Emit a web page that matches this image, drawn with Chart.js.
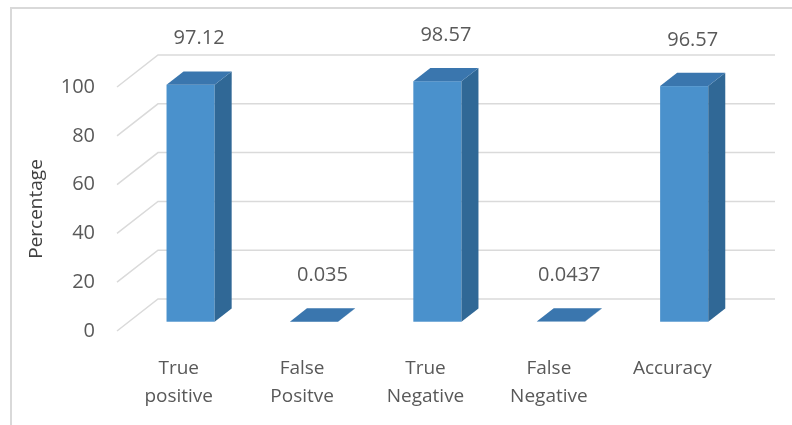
<!DOCTYPE html>
<html>
<head>
<meta charset="utf-8">
<script src="https://cdn.jsdelivr.net/npm/chart.js@4/dist/chart.umd.min.js"></script>
<style>
  html, body { margin: 0; padding: 0; background: #ffffff; }
  #wrap { width: 792px; height: 425px; position: relative; }
</style>
</head>
<body>
<div id="wrap"><canvas id="chart" width="792" height="425"></canvas></div>
<script>
// Classification results (percent)
const categories = [["True", "positive"], ["False", "Positve"], ["True", "Negative"], ["False", "Negative"], ["Accuracy"]];
const values = [97.12, 0.035, 98.57, 0.0437, 96.57];
const yTickValues = [0, 20, 40, 60, 80, 100];

// 3D look: depth of the floor and of each bar box
const FLOOR_DX = 41, FLOOR_DY = -32;
const BAR_FRONT = 0.29;   // bar front sits this far into the floor depth
const BAR_DEPTH = 0.415;  // bar box depth as a share of the floor depth

const COLORS = {
  front: '#4a91cc',
  top: '#3a76ae',
  side: '#306896',
  grid: '#dadada',
  frame: '#d9d9d9',
  text: '#595959',
  title: '#404040'
};
const FONT = "'Open Sans', 'DejaVu Sans', sans-serif";

const box3d = {
  id: 'box3d',
  beforeDatasetsDraw(chart) {
    const ctx = chart.ctx;
    const xs = chart.scales.x, ys = chart.scales.y;
    ctx.save();
    // outer frame (top and left edges)
    ctx.strokeStyle = COLORS.frame;
    ctx.lineWidth = 2;
    ctx.beginPath();
    ctx.moveTo(11, 430);
    ctx.lineTo(11, 8);
    ctx.lineTo(800, 8);
    ctx.stroke();
    // back wall and side wall gridlines
    ctx.strokeStyle = COLORS.grid;
    ctx.lineWidth = 1.5;
    yTickValues.forEach(v => {
      const yf = ys.getPixelForValue(v);
      ctx.beginPath();
      ctx.moveTo(xs.left, yf);
      ctx.lineTo(xs.left + FLOOR_DX, yf + FLOOR_DY);
      ctx.lineTo(xs.right + FLOOR_DX, yf + FLOOR_DY);
      ctx.stroke();
    });
    ctx.restore();
  },
  afterDatasetsDraw(chart) {
    const ctx = chart.ctx;
    const meta = chart.getDatasetMeta(0);
    const sx = FLOOR_DX * BAR_FRONT, sy = FLOOR_DY * BAR_FRONT;
    const dx = FLOOR_DX * BAR_DEPTH, dy = FLOOR_DY * BAR_DEPTH;
    ctx.save();
    meta.data.forEach((bar, i) => {
      const p = bar.getProps(['x', 'y', 'base', 'width'], true);
      const x0 = p.x - p.width / 2 + sx, x1 = p.x + p.width / 2 + sx;
      const yt = p.y + sy, yb = p.base + sy;
      // front face
      ctx.fillStyle = COLORS.front;
      ctx.fillRect(x0, yt, x1 - x0, yb - yt);
      // side face
      ctx.fillStyle = COLORS.side;
      ctx.beginPath();
      ctx.moveTo(x1, yt);
      ctx.lineTo(x1 + dx, yt + dy);
      ctx.lineTo(x1 + dx, yb + dy);
      ctx.lineTo(x1, yb);
      ctx.closePath();
      ctx.fill();
      // top face
      ctx.fillStyle = COLORS.top;
      ctx.beginPath();
      ctx.moveTo(x0, yt);
      ctx.lineTo(x1, yt);
      ctx.lineTo(x1 + dx, yt + dy);
      ctx.lineTo(x0 + dx, yt + dy);
      ctx.closePath();
      ctx.fill();
      // value label above the box
      ctx.fillStyle = COLORS.text;
      ctx.font = '20px ' + FONT;
      ctx.textAlign = 'center';
      ctx.textBaseline = 'middle';
      ctx.fillText(String(values[i]), (x0 + x1) / 2 + dx / 2, yt + dy - 33);
    });
    ctx.restore();
  }
};

new Chart(document.getElementById('chart'), {
  type: 'bar',
  data: {
    labels: categories,
    datasets: [{
      data: values,
      backgroundColor: 'rgba(0,0,0,0)',
      borderWidth: 0,
      barPercentage: 0.39,
      categoryPercentage: 1
    }]
  },
  options: {
    responsive: false,
    animation: false,
    layout: { padding: { left: 12, right: 58, top: 87, bottom: 0 } },
    plugins: { legend: { display: false }, tooltip: { enabled: false } },
    scales: {
      x: {
        type: 'category',
        grid: { display: false, drawTicks: false },
        border: { display: false },
        ticks: {
          autoSkip: false,
          maxRotation: 0,
          padding: 23,
          color: COLORS.text,
          font: { family: FONT, size: 19, lineHeight: 1.5 }
        },
        afterFit(s) { s.height = 94; }
      },
      y: {
        min: 0,
        max: 100,
        grid: { display: false, drawTicks: false },
        border: { display: false },
        ticks: {
          stepSize: 20,
          padding: 22,
          color: COLORS.text,
          font: { family: FONT, size: 20 }
        },
        title: {
          display: true,
          text: 'Percentage',
          color: COLORS.title,
          padding: { top: 13, bottom: 0 },
          font: { family: FONT, size: 19 }
        },
        afterFit(s) { s.width = 105; }
      }
    }
  },
  plugins: [box3d]
});
</script>
</body>
</html>
